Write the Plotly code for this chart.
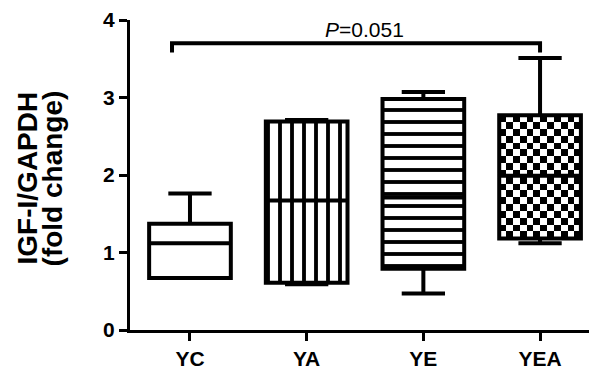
import plotly.graph_objects as go

categories = ["YC", "YA", "YE", "YEA"]
lower = [0.67, 0.59, 0.47, 1.12]
q1 = [0.67, 0.61, 0.79, 1.18]
median = [1.12, 1.67, 1.71, 1.99]
q3 = [1.37, 2.69, 2.98, 2.77]
upper = [1.76, 2.71, 3.07, 3.51]
y_ticks = [0, 1, 2, 3, 4]
p_text = "<i>P</i>=0.051"

FONT = "Liberation Sans, Arial, sans-serif"
BOX_W = 0.7
LW = 4
fills = ["none", "|", "-", "checker"]

# page has an 8px body margin; size the figure so the plot area lands where the reference has it
OFF = 8
W, H = 597 - OFF, 370 - OFF
ml, mr, mt, mb = 130 - OFF, 0, 15 - OFF, 40

fig = go.Figure()

for i, cat in enumerate(categories):
    kind = fills[i]
    if kind == "checker":
        ncols, nrows = 12, 18
        x0 = i - BOX_W / 2
        xs = [x0 + BOX_W * k / ncols for k in range(ncols + 1)]
        ys = [q1[i] + (q3[i] - q1[i]) * k / nrows for k in range(nrows + 1)]
        z = [[(r + c) % 2 for c in range(ncols)] for r in range(nrows)]
        fig.add_trace(go.Heatmap(x=xs, y=ys, z=z, showscale=False,
                                 colorscale=[[0, "white"], [1, "black"]],
                                 zmin=0, zmax=1, hoverinfo="skip"))
    else:
        pattern = dict(shape="", fgcolor="black", bgcolor="white")
        if kind in ("|", "-"):
            pattern = dict(shape=kind, fgcolor="black", bgcolor="white",
                           fgopacity=1, size=12, solidity=0.32)
        fig.add_trace(go.Bar(x=[i], y=[q3[i] - q1[i]], base=[q1[i]], width=BOX_W,
                             marker=dict(color="white", line=dict(width=0),
                                         pattern=pattern),
                             hoverinfo="skip"))
    fig.add_trace(go.Box(x=[i], q1=[q1[i]], median=[median[i]], q3=[q3[i]],
                         lowerfence=[lower[i]], upperfence=[upper[i]],
                         width=BOX_W, whiskerwidth=0.53,
                         fillcolor="rgba(0,0,0,0)",
                         line=dict(color="black", width=LW),
                         name=cat))

# significance bracket
bx0, bx1, by, bdrop = -0.154, 3.0, 3.70, 0.12
fig.add_shape(type="path",
              path=f"M {bx0},{by - bdrop} L {bx0},{by} L {bx1},{by} L {bx1},{by - bdrop}",
              line=dict(color="black", width=LW), xref="x", yref="y")
fig.add_annotation(x=(bx0 + bx1) / 2 + 0.07, y=by, yshift=14, text=p_text,
                   showarrow=False, font=dict(family=FONT, size=21, color="black"),
                   xref="x", yref="y")

# y title (two lines, tight spacing), positions given in page pixels
for px, txt in [(27, "IGF-I/GAPDH"), (52, "(fold change)")]:
    fig.add_annotation(x=(px - OFF - ml) / (W - ml - mr),
                       y=1 - (176 - OFF - mt) / (H - mt - mb),
                       xref="paper", yref="paper", text=txt,
                       xanchor="center", yanchor="middle",
                       textangle=-90, showarrow=False,
                       font=dict(family=FONT, size=28, color="black", weight="bold"))

fig.update_layout(
    width=W, height=H, margin=dict(l=ml, r=mr, t=mt, b=mb),
    plot_bgcolor="white", paper_bgcolor="white",
    showlegend=False, barmode="overlay",
    font=dict(family=FONT, color="black"),
)
fig.update_xaxes(range=[-0.514, 3.488], tickvals=list(range(len(categories))),
                 ticktext=categories, showgrid=False, zeroline=False,
                 showline=True, linecolor="black", linewidth=3,
                 ticks="outside", ticklen=8, tickwidth=3, tickcolor="black",
                 tickfont=dict(family=FONT, size=21, color="black", weight="bold"))
fig.update_yaxes(range=[0, 4], tickvals=y_ticks, showgrid=False, zeroline=False,
                 showline=True, linecolor="black", linewidth=3,
                 ticks="outside", ticklen=8, tickwidth=3, tickcolor="black",
                 ticklabeloverflow="allow",
                 tickfont=dict(family=FONT, size=21, color="black", weight="bold"))

fig.write_html("out.html")
